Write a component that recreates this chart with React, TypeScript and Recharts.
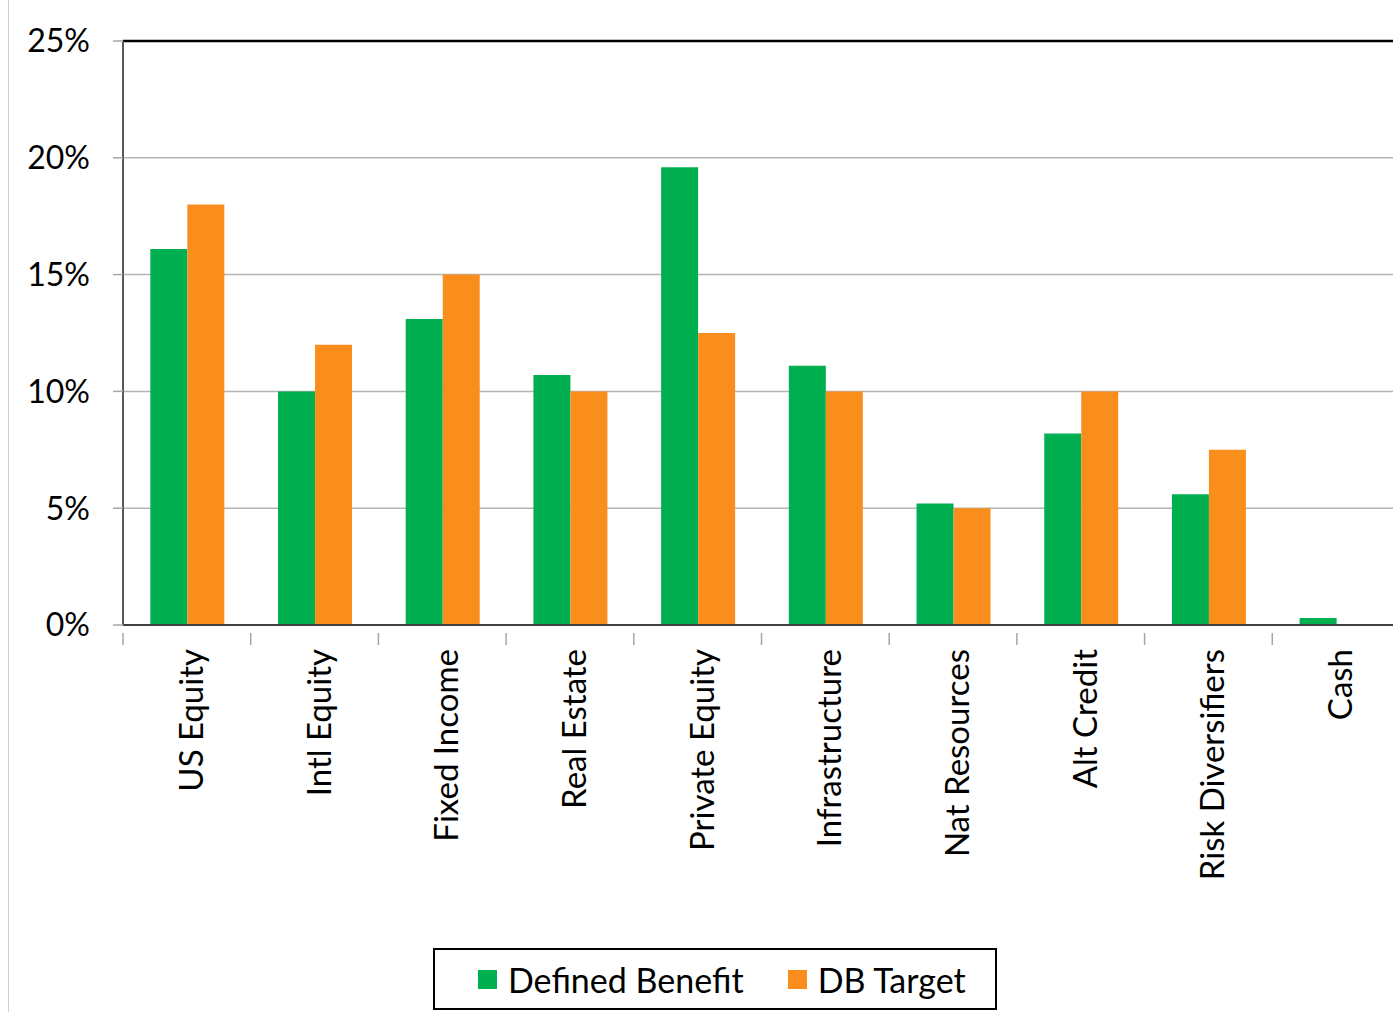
import React from 'react';
import { BarChart, Bar, XAxis, YAxis, CartesianGrid, ReferenceLine } from 'recharts';

const categories = [
  'US Equity',
  'Intl Equity',
  'Fixed Income',
  'Real Estate',
  'Private Equity',
  'Infrastructure',
  'Nat Resources',
  'Alt Credit',
  'Risk Diversifiers',
  'Cash',
];
const definedBenefit = [16.1, 10.0, 13.1, 10.7, 19.6, 11.1, 5.2, 8.2, 5.6, 0.3];
const dbTarget = [18, 12, 15, 10, 12.5, 10, 5, 10, 7.5, 0];
const yTicks = [0, 5, 10, 15, 20, 25];

const GREEN = '#00B050';
const ORANGE = '#FA8E1C';
const FONT = 'Lato, "Open Sans", sans-serif';

const CHART_W = 1420;
const CHART_H = 1012;
const MARGIN = { top: 41, right: 20, left: 0, bottom: 0 };
const Y_AXIS_W = 123;
const BAND = (CHART_W - MARGIN.left - MARGIN.right - Y_AXIS_W) / categories.length;

const data = categories.map((name, i) => ({
  name,
  db: definedBenefit[i],
  target: dbTarget[i],
}));

const CategoryTick = ({ x, y, payload }: any) => (
  <g>
    <line x1={x - BAND / 2} x2={x - BAND / 2} y1={y} y2={y + 12} stroke="#a6a6a6" strokeWidth={1.5} />
    <g transform={`translate(${x + 3},${y + 16})`}>
      <text
        transform="rotate(-90)"
        textAnchor="end"
        dominantBaseline="central"
        fontFamily={FONT}
        fontSize={33}
        fill="#000"
      >
        {payload.value}
      </text>
    </g>
  </g>
);

const LegendBox = () => (
  <div
    style={{
      position: 'absolute',
      left: 433,
      top: 948,
      width: 564,
      height: 62,
      border: '2px solid #000',
      display: 'flex',
      alignItems: 'center',
      justifyContent: 'flex-start',
      paddingLeft: 43,
      boxSizing: 'border-box',
      fontFamily: FONT,
      fontSize: 34,
      color: '#000',
      background: '#fff',
    }}
  >
    <span style={{ display: 'inline-block', width: 19, height: 19, background: GREEN, marginRight: 11 }} />
    <span style={{ marginRight: 44 }}>Defined Benefit</span>
    <span style={{ display: 'inline-block', width: 19, height: 19, background: ORANGE, marginRight: 11 }} />
    <span>DB Target</span>
  </div>
);

export default function App() {
  return (
    <div style={{ position: 'absolute', left: 0, top: 0, width: 1393, height: 1012, overflow: 'hidden', background: '#fff' }}>
      <div style={{ position: 'absolute', left: 8, top: 0, width: 1, height: 1012, background: '#d0d0d0' }} />
      <BarChart
        width={CHART_W}
        height={CHART_H}
        data={data}
        margin={MARGIN}
        barCategoryGap="21.4%"
        barGap={0}
      >
        <CartesianGrid vertical={false} stroke="#b3b3b3" strokeWidth={1.5} />
        <XAxis
          dataKey="name"
          height={387}
          interval={0}
          axisLine={{ stroke: '#404040', strokeWidth: 2 }}
          tickLine={false}
          tick={<CategoryTick />}
        />
        <YAxis
          width={Y_AXIS_W}
          domain={[0, 25]}
          ticks={yTicks}
          tickFormatter={(v) => `${v}%`}
          axisLine={{ stroke: '#595959', strokeWidth: 2 }}
          tickLine={{ stroke: '#a6a6a6', strokeWidth: 1.5 }}
          tickSize={10}
          tickMargin={23}
          tick={{ fontFamily: FONT, fontSize: 32, fill: '#000' }}
        />
        <ReferenceLine y={25} stroke="#000" strokeWidth={2.5} />
        <Bar dataKey="db" name="Defined Benefit" fill={GREEN} isAnimationActive={false} />
        <Bar dataKey="target" name="DB Target" fill={ORANGE} isAnimationActive={false} />
      </BarChart>
      <LegendBox />
    </div>
  );
}
